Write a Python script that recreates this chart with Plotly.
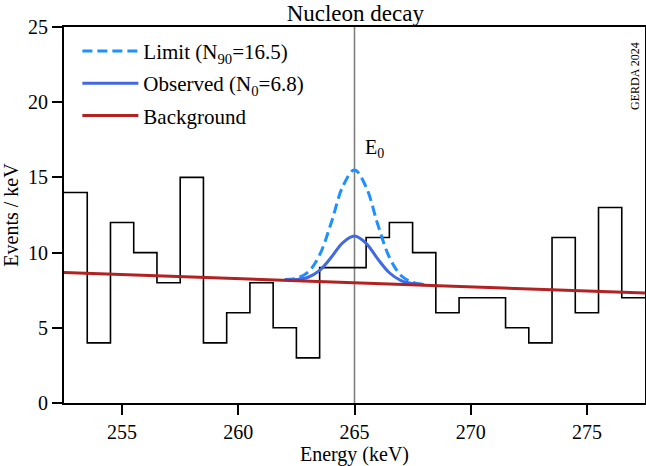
import plotly.graph_objects as go

# ---- data ----
bin_start = 252.5
bin_width = 1.0
counts = [14, 4, 12, 10, 8, 15, 4, 6, 8, 5, 3, 9, 9, 11, 12, 10, 6, 7, 7, 5, 4, 11, 6, 13, 7]

bg_x = [252.5, 277.5]
bg_y = [8.68, 7.31]

curve_x = [262.0, 262.5, 263.0, 263.5, 264.0, 264.5, 265.0, 265.5, 266.0, 266.5, 267.0, 267.5, 268.0]
observed_y = [8.19, 8.21, 8.36, 8.82, 9.69, 10.67, 11.10, 10.62, 9.58, 8.66, 8.14, 7.94, 7.86]
limit_y = [8.21, 8.29, 8.70, 9.85, 11.99, 14.41, 15.50, 14.36, 11.88, 9.69, 8.48, 8.02, 7.88]

E0 = 265.0
x_ticks = [255, 260, 265, 270, 275]
y_ticks = [0, 5, 10, 15, 20, 25]

FONT = "Liberation Serif"

edges = [bin_start + i * bin_width for i in range(len(counts) + 1)]
hist_x = edges
hist_y = counts + [counts[-1]]

fig = go.Figure()

fig.add_trace(go.Scatter(
    x=hist_x, y=hist_y, mode="lines", line=dict(shape="hv", color="black", width=1.6),
    showlegend=False, hoverinfo="skip"))

fig.add_trace(go.Scatter(
    x=curve_x, y=limit_y, mode="lines", name="Limit (N<sub>90</sub>=16.5)",
    line=dict(color="#1E90FF", width=3, dash="10px,5px", shape="spline"),
    legendgroup="a"))
fig.add_trace(go.Scatter(
    x=curve_x, y=observed_y, mode="lines", name="Observed (N<sub>0</sub>=6.8)",
    line=dict(color="#4169E1", width=3, shape="spline"),
    legendgroup="b"))
fig.add_trace(go.Scatter(
    x=bg_x, y=bg_y, mode="lines", name="Background",
    line=dict(color="#B22222", width=3),
    legendgroup="c"))

fig.add_shape(type="line", x0=E0, x1=E0, y0=0, y1=1, xref="x", yref="paper",
              line=dict(color="#808080", width=1.6), layer="below")

fig.add_annotation(x=265.35, y=16.9, xref="x", yref="y", text="E<sub>0</sub>",
                   showarrow=False, xanchor="left", yanchor="middle",
                   font=dict(family=FONT, size=20, color="black"))
fig.add_annotation(x=0.983, y=0.87, xref="paper", yref="paper", text="GERDA 2024",
                   showarrow=False, textangle=-90, xanchor="center", yanchor="middle",
                   font=dict(family=FONT, size=12, color="black"))

fig.update_layout(
    width=646, height=466,
    margin=dict(l=64, r=1, t=27, b=63, autoexpand=False),
    paper_bgcolor="white", plot_bgcolor="white",
    font=dict(family=FONT, size=20, color="black"),
    title=dict(text="Nucleon decay", x=0.55, xanchor="center", xref="container",
               y=1 - 13 / 466, yanchor="middle", yref="container",
               font=dict(family=FONT, size=23, color="black")),
    showlegend=True,
    legend=dict(x=0.023, y=0.99, xanchor="left", yanchor="top", bgcolor="rgba(0,0,0,0)",
                font=dict(family=FONT, size=21, color="black"),
                tracegroupgap=2, itemwidth=56),
)

fig.update_xaxes(range=[252.5, 277.5], tickvals=x_ticks, ticks="outside", ticklen=10,
                 tickwidth=1.5, tickcolor="black", showline=True, linecolor="black",
                 linewidth=2, mirror=True, showgrid=False, zeroline=False, automargin=False,
                 title=dict(text="Energy (keV)", standoff=2, font=dict(size=20)),
                 tickfont=dict(size=20))
fig.update_yaxes(range=[0, 25], tickvals=y_ticks, ticks="outside", ticklen=10,
                 tickwidth=1.5, tickcolor="black", showline=True, linecolor="black",
                 linewidth=2, mirror=True, showgrid=False, zeroline=False, automargin=False,
                 title=dict(text="Events / keV", standoff=4, font=dict(size=20)),
                 tickfont=dict(size=20))

fig.write_html("out.html", config={"displayModeBar": False},
               post_script="document.body.style.margin='0';")
